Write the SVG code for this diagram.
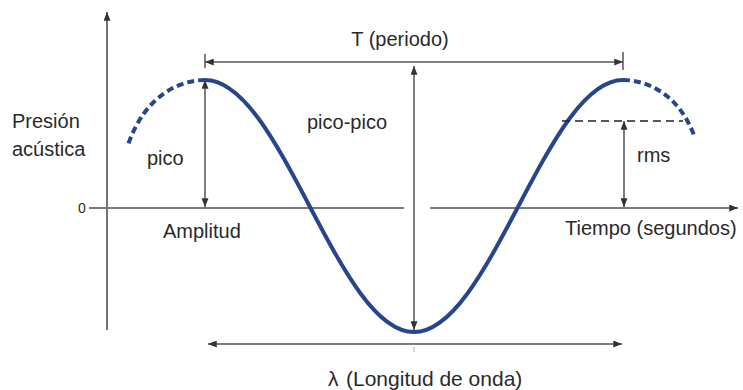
<svg xmlns="http://www.w3.org/2000/svg" width="743" height="390" viewBox="0 0 743 390">
<style>
text{font-family:"Liberation Sans",Arial,sans-serif;font-size:20px;fill:#2a2a2a}
.ax{stroke:#7a7a7a;stroke-width:2;fill:none}
.dim{stroke:#555;stroke-width:1.5;fill:none}
.wave{stroke:#27468a;stroke-width:4;fill:none;stroke-linecap:round}
.wdash{stroke:#27468a;stroke-width:4;fill:none;stroke-dasharray:7 4}
</style>
<defs>
<marker id="ah" viewBox="0 0 10 8" refX="10" refY="4" markerWidth="10" markerHeight="7" markerUnits="userSpaceOnUse" orient="auto-start-reverse">
<path d="M0,0 L10,4 L0,8 z" fill="#333"/>
</marker>
</defs>
<rect width="743" height="390" fill="#fff"/>
<g id="axes">
<line x1="107" y1="330" x2="107" y2="12" stroke="#444" stroke-width="1.5" marker-end="url(#ah)"/>
<line class="ax" x1="89" y1="208" x2="404" y2="208"/>
<line class="ax" x1="430" y1="208" x2="738" y2="208" marker-end="url(#ah)"/>
<text x="78" y="213" style="font-size:14px">0</text>
</g>
<g id="wave">
<path class="wave" d="M205,80 C242.82,80 275.42,141.45 309.5,206 C343.58,270.55 376.18,332 414,332 C451.82,332 484.42,270.55 518.5,206 C552.58,141.45 585.18,80 623,80"/>
<path class="wdash" d="M205,80 C180,80 145,95 128,145"/>
<path class="wdash" d="M623,80 C648,80 680,95 695,138"/>
</g>
<g id="connectors">
<line class="dim" x1="205" y1="62" x2="623" y2="62" marker-start="url(#ah)" marker-end="url(#ah)"/>
<line class="dim" x1="205" y1="54" x2="205" y2="68"/>
<line class="dim" x1="623" y1="52" x2="623" y2="70"/>
<line class="dim" x1="205" y1="80" x2="205" y2="207" marker-start="url(#ah)" marker-end="url(#ah)"/>
<line class="dim" x1="414" y1="66" x2="414" y2="330" marker-start="url(#ah)" marker-end="url(#ah)"/>
<line class="dim" x1="624" y1="121" x2="624" y2="207" marker-start="url(#ah)" marker-end="url(#ah)"/>
<line x1="562" y1="121" x2="683" y2="121" stroke="#222" stroke-width="1.5" stroke-dasharray="8 5"/>
<line class="dim" x1="208" y1="344" x2="622" y2="344" marker-start="url(#ah)" marker-end="url(#ah)"/>
<line x1="414" y1="347" x2="414" y2="352" stroke="#aaa" stroke-width="1"/>
</g>
<g id="labels">
<text x="400" y="46" text-anchor="middle">T (periodo)</text>
<text x="12" y="128">Presión</text>
<text x="12" y="156">acústica</text>
<text x="147" y="165">pico</text>
<text x="307" y="129">pico-pico</text>
<text x="163" y="238">Amplitud</text>
<text x="565" y="235">Tiempo (segundos)</text>
<text x="637" y="162">rms</text>
<text y="386" style="font-size:21px"><tspan x="328">λ</tspan><tspan x="346">(Longitud de onda)</tspan></text>
</g>
</svg>
